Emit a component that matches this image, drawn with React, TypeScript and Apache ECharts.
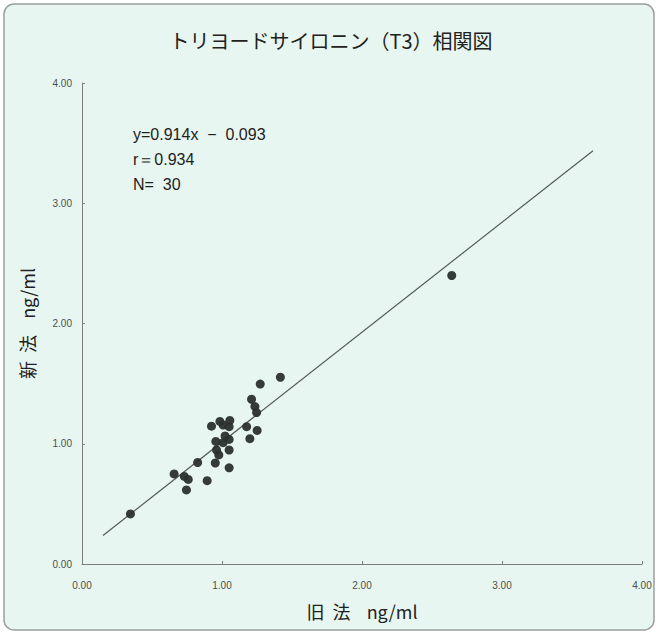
import React, { useEffect, useRef } from "react";
import * as echarts from "echarts";

const titleText = "トリヨードサイロニン（T3）相関図";
const xName = "旧  法    ng/ml";
const yName = "新  法    ng/ml";
const annotationLines = ["y=0.914x  −  0.093", "r＝0.934", "N=  30"];

const oldMethod = [
  0.346, 0.658, 0.731, 0.759, 0.746, 0.826, 0.894, 0.952, 1.051, 0.961,
  1.051, 0.956, 1.008, 1.051, 0.925, 0.985, 1.056, 1.008, 1.051, 1.176,
  1.251, 1.199, 1.211, 1.235, 1.247, 1.273, 1.417, 2.641, 1.022, 0.977,
];
const newMethod = [
  0.416, 0.749, 0.728, 0.703, 0.616, 0.844, 0.693, 0.84, 0.8, 0.948,
  0.948, 1.019, 1.009, 1.036, 1.146, 1.186, 1.194, 1.156, 1.142, 1.142,
  1.111, 1.042, 1.37, 1.309, 1.259, 1.496, 1.553, 2.399, 1.065, 0.907,
];
const lineX = [0.15, 3.65];
const lineY = [0.237, 3.436];
const axisTicks = [0, 1, 2, 3, 4];

export default function App() {
  const ref = useRef<HTMLDivElement>(null);
  useEffect(() => {
    document.body.style.margin = "0";
    const chart = echarts.init(ref.current!, null, { renderer: "svg" });
    const font = "'Liberation Sans', Arial, 'Noto Sans CJK JP', sans-serif";
    chart.setOption({
      animation: false,
      backgroundColor: "#ffffff",
      textStyle: { fontFamily: font },
      graphic: [
        {
          type: "rect",
          z: -10,
          shape: { x: 4, y: 4, width: 650, height: 626, r: 10 },
          style: { fill: "#e8f6f1", stroke: "#9a9e9c", lineWidth: 1.5 },
        },
        {
          type: "text",
          x: 331,
          y: 40,
          style: {
            text: titleText,
            fill: "#1e2220",
            font: "20px 'Noto Sans CJK JP', sans-serif",
            textAlign: "center",
            textVerticalAlign: "middle",
          },
        },
        ...annotationLines.map((t, i) => ({
          type: "text",
          x: 133,
          y: 134 + i * 25,
          style: {
            text: t,
            fill: "#1e2220",
            font: "16px 'Liberation Sans', Arial, sans-serif",
            textAlign: "left",
            textVerticalAlign: "middle",
          },
        })),
      ],
      grid: { left: 82, right: 17, top: 83, bottom: 71, containLabel: false },
      xAxis: {
        type: "value",
        min: axisTicks[0],
        max: axisTicks[axisTicks.length - 1],
        interval: 1,
        name: xName,
        nameLocation: "middle",
        nameGap: 38,
        nameTextStyle: { fontSize: 18, color: "#1e2220", fontFamily: "'Noto Sans CJK JP', sans-serif" },
        axisLine: { lineStyle: { color: "#7a7e7c", width: 1 } },
        axisTick: { inside: true, length: 3, lineStyle: { color: "#7a7e7c" } },
        axisLabel: {
          formatter: (v: number) => v.toFixed(2),
          fontSize: 10,
          color: "#4a4e4c",
          margin: 16,
        },
        splitLine: { show: false },
      },
      yAxis: {
        type: "value",
        min: axisTicks[0],
        max: axisTicks[axisTicks.length - 1],
        interval: 1,
        name: yName,
        nameLocation: "middle",
        nameRotate: 90,
        nameGap: 46,
        nameTextStyle: { fontSize: 18, color: "#1e2220", fontFamily: "'Noto Sans CJK JP', sans-serif" },
        axisLine: { lineStyle: { color: "#7a7e7c", width: 1 } },
        axisTick: { inside: true, length: 3, lineStyle: { color: "#7a7e7c" } },
        axisLabel: {
          formatter: (v: number) => v.toFixed(2),
          fontSize: 10,
          color: "#4a4e4c",
          margin: 10,
        },
        splitLine: { show: false },
      },
      series: [
        {
          type: "line",
          data: lineX.map((x, i) => [x, lineY[i]]),
          showSymbol: false,
          symbol: "none",
          lineStyle: { color: "#555a57", width: 1.2 },
          silent: true,
          z: 1,
        },
        {
          type: "scatter",
          data: oldMethod.map((x, i) => [x, newMethod[i]]),
          symbol: "circle",
          symbolSize: 9,
          itemStyle: { color: "#2b302d", opacity: 0.95 },
          z: 2,
        },
      ],
    });
    return () => chart.dispose();
  }, []);
  return <div ref={ref} style={{ width: 659, height: 635 }} />;
}
